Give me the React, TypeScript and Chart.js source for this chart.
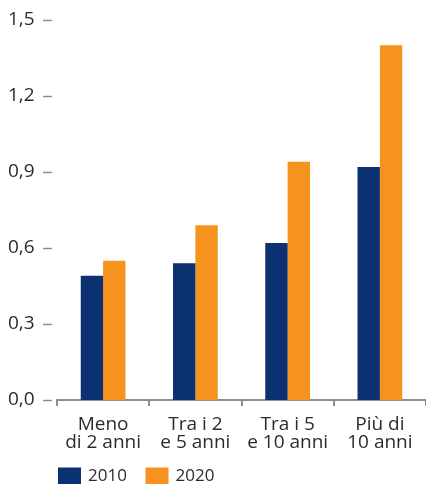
import React, { useEffect, useRef } from "react";
import { Chart, registerables } from "chart.js";

Chart.register(...registerables);

const categories: string[][] = [
  ["Meno", "di 2 anni"],
  ["Tra i 2", "e 5 anni"],
  ["Tra i 5", "e 10 anni"],
  ["Più di", "10 anni"],
];
const seriesLabels = ["2010", "2020"];
const values2010 = [0.49, 0.54, 0.62, 0.92];
const values2020 = [0.55, 0.69, 0.94, 1.4];
const yTickValues = [0, 0.3, 0.6, 0.9, 1.2, 1.5];

const NAVY = "#0b3170";
const ORANGE = "#f6921e";
const TEXT = "#2b2b2b";
const AXIS = "#8c8c8c";
const FONT = "'Open Sans', sans-serif";

const fmt = (v: number) => v.toFixed(1).replace(".", ",");

const yTickMarks = {
  id: "yTickMarks",
  afterDraw(chart: any) {
    const { ctx, chartArea, scales } = chart;
    const y = scales.y;
    ctx.save();
    ctx.strokeStyle = AXIS;
    ctx.lineWidth = 1.5;
    yTickValues.forEach((v) => {
      const py = Math.round(y.getPixelForValue(v)) + 0.5;
      ctx.beginPath();
      ctx.moveTo(chartArea.left - 14, py);
      ctx.lineTo(chartArea.left - 5, py);
      ctx.stroke();
    });
    ctx.restore();
  },
};

const bottomLegend = {
  id: "bottomLegend",
  afterDraw(chart: any) {
    const { ctx, chartArea } = chart;
    const top = chart.height - 17.5;
    ctx.save();
    ctx.font = `17px ${FONT}`;
    ctx.textBaseline = "middle";
    ctx.textAlign = "left";
    chart.data.datasets.forEach((ds: any, i: number) => {
      const x = chartArea.left + 1 + i * 87.5;
      ctx.fillStyle = ds.backgroundColor;
      ctx.fillRect(x, top, 23, 16.5);
      ctx.fillStyle = TEXT;
      ctx.fillText(ds.label, x + 30, top + 9);
    });
    ctx.restore();
  },
};

export default function App() {
  const ref = useRef<HTMLCanvasElement>(null);

  useEffect(() => {
    if (!ref.current) return;
    const chart = new Chart(ref.current, {
      type: "bar",
      data: {
        labels: categories,
        datasets: [
          { label: seriesLabels[0], data: values2010, backgroundColor: NAVY },
          { label: seriesLabels[1], data: values2020, backgroundColor: ORANGE },
        ],
      },
      options: {
        responsive: false,
        animation: false,
        layout: { padding: { top: 20, bottom: 35, left: 8, right: 0 } },
        plugins: {
          legend: { display: false },
          tooltip: { enabled: false },
        },
        datasets: {
          bar: { barPercentage: 1, categoryPercentage: 0.485 },
        },
        scales: {
          x: {
            offset: true,
            grid: {
              display: true,
              drawOnChartArea: false,
              drawTicks: true,
              tickLength: 6,
              color: AXIS,
              lineWidth: 2,
              offset: true,
            },
            border: { display: true, color: AXIS, width: 2 },
            ticks: {
              color: TEXT,
              padding: 10,
              maxRotation: 0,
              autoSkip: false,
              font: { family: FONT, size: 19, lineHeight: "17.5px" },
            },
            afterFit(scale: any) {
              scale.height = 50;
            },
          },
          y: {
            min: 0,
            max: 1.5,
            grid: { display: false, drawTicks: false },
            border: { display: false },
            afterBuildTicks(scale: any) {
              scale.ticks = yTickValues.map((v) => ({ value: v }));
            },
            ticks: {
              color: TEXT,
              padding: 0,
              crossAlign: "far",
              font: { family: FONT, size: 19 },
              callback: (v: any) => fmt(Number(v)),
            },
            afterFit(scale: any) {
              scale.width = 49;
            },
          },
        },
      },
      plugins: [yTickMarks, bottomLegend],
    });
    return () => chart.destroy();
  }, []);

  return (
    <div style={{ position: "absolute", left: 0, top: 0, width: 426, height: 485 }}>
      <canvas ref={ref} width={426} height={485} style={{ display: "block" }} />
    </div>
  );
}
